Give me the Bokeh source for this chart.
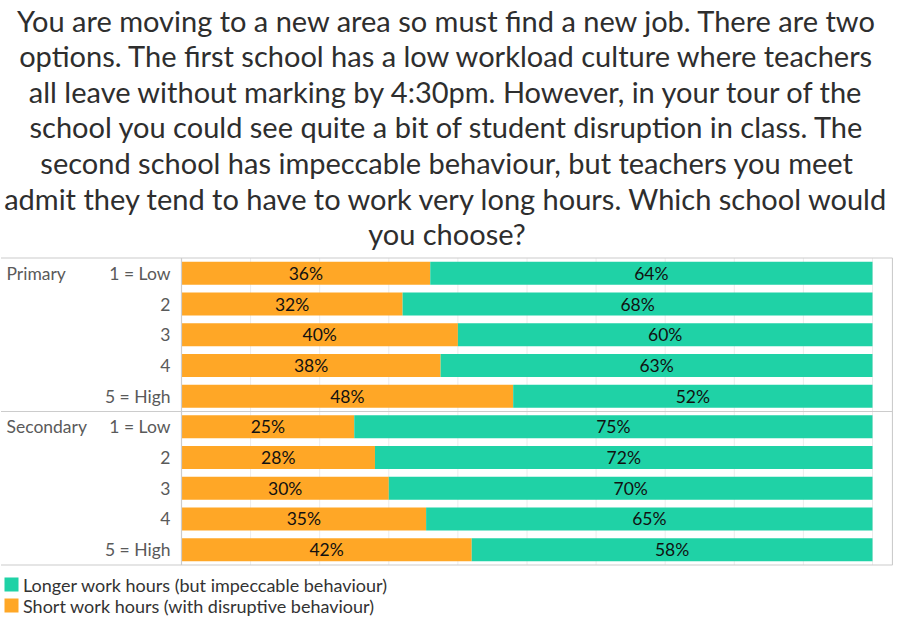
import math
from bokeh.plotting import figure
from bokeh.models import Range1d
from bokeh.core.properties import value
from bokeh.embed import file_html
from bokeh.resources import INLINE

# ---------------- data ----------------
title_lines = [
    "You are moving to a new area so must find a new job. There are two",
    "options. The first school has a low workload culture where teachers",
    "all leave without marking by 4:30pm. However, in your tour of the",
    "school you could see quite a bit of student disruption in class. The",
    "second school has impeccable behaviour, but teachers you meet",
    "admit they tend to have to work very long hours. Which school would",
    "you choose?",
]
groups = ["Primary", "Secondary"]
levels = ["1 = Low", "2", "3", "4", "5 = High"]
short_hours = [36, 32, 40, 37.5, 48, 25, 28, 30, 35.4, 42]
longer_hours = [64, 68, 60, 62.5, 52, 75, 72, 70, 64.6, 58]
series_names = ["Longer work hours (but impeccable behaviour)",
                "Short work hours (with disruptive behaviour)"]

# ---------------- style / layout ----------------
ORANGE = "#FFA726"
TEAL = "#1FD2A6"
FONT = "Lato"
W, H = 893, 616
BAR0_PX = 181.0                    # pixel where 0% sits
SCALE = (872.0 - 181.0) / 100.0    # px per percent
X0 = -BAR0_PX / SCALE
X1 = (W - BAR0_PX) / SCALE
CHART_TOP = 257.5
ROW = 30.7
BAR_H = 23


def px2x(px):
    return X0 + px / SCALE


p = figure(width=W, height=H, x_range=Range1d(X0, X1), y_range=Range1d(H, 0),
           output_backend="svg", toolbar_location=None,
           x_axis_type=None, y_axis_type=None, min_border=0)
p.outline_line_color = None
p.background_fill_color = "white"
p.border_fill_color = "white"

n = len(short_hours)
ys = [CHART_TOP + ROW * (i + 0.5) for i in range(n)]
chart_bottom = CHART_TOP + ROW * n

# gridlines
grid_x = list(range(10, 101, 10))
p.segment(x0=grid_x, x1=grid_x, y0=[CHART_TOP] * len(grid_x), y1=[chart_bottom] * len(grid_x),
          line_color="#ececec", line_width=1)

# bars
lefts2 = short_hours
rights2 = [a + b for a, b in zip(short_hours, longer_hours)]
p.hbar(y=ys, left=0, right=short_hours, height=BAR_H, fill_color=ORANGE, line_color=None)
p.hbar(y=ys, left=lefts2, right=rights2, height=BAR_H, fill_color=TEAL, line_color=None)

# borders
xl, xr = px2x(0.5), px2x(W - 1.0)
hy = [CHART_TOP, CHART_TOP + ROW * 5, chart_bottom]
p.segment(x0=[xl] * 3, x1=[xr] * 3, y0=hy, y1=hy, line_color="#cccccc", line_width=1.2)
p.segment(x0=[0, xr], x1=[0, xr], y0=[CHART_TOP, CHART_TOP], y1=[chart_bottom, chart_bottom],
          line_color="#cccccc", line_width=1.2)

# bar labels
def lab(v):
    return f"{int(math.floor(v + 0.5))}%"

p.text(x=[v / 2 for v in short_hours], y=ys, text=[lab(v) for v in short_hours],
       text_align="center", text_baseline="middle", text_font=value(FONT),
       text_font_size=value("17.5px"), text_color="#111111")
p.text(x=[a + b / 2 for a, b in zip(short_hours, longer_hours)], y=ys,
       text=[lab(v) for v in longer_hours],
       text_align="center", text_baseline="middle", text_font=value(FONT),
       text_font_size=value("17.5px"), text_color="#111111")

# row labels
p.text(x=[px2x(170)] * n, y=ys, text=levels * len(groups),
       text_align="right", text_baseline="middle", text_font=value(FONT),
       text_font_size=value("17.5px"), text_color="#5a5a5a")
p.text(x=[px2x(6)] * len(groups), y=[ys[0], ys[len(levels)]], text=groups,
       text_align="left", text_baseline="middle", text_font=value(FONT),
       text_font_size=value("17.5px"), text_color="#5a5a5a")

# title
ty = [19.5 + 35.6 * k for k in range(len(title_lines))]
p.text(x=[px2x(W / 2)] * len(title_lines), y=ty, text=title_lines,
       text_align="center", text_baseline="middle", text_font=value(FONT),
       text_font_size=value("29px"), text_color="#2e2e2e")

# legend
ly = [584, 605]
p.scatter(x=[px2x(11)] * 2, y=ly, marker="square", size=14,
          fill_color=[TEAL, ORANGE], line_color=None)
p.text(x=[px2x(22.5)] * 2, y=ly, text=series_names,
       text_align="left", text_baseline="middle", text_font=value(FONT),
       text_font_size=value("18px"), text_color="#333333")

open("out.html", "w").write(file_html(p, INLINE))
